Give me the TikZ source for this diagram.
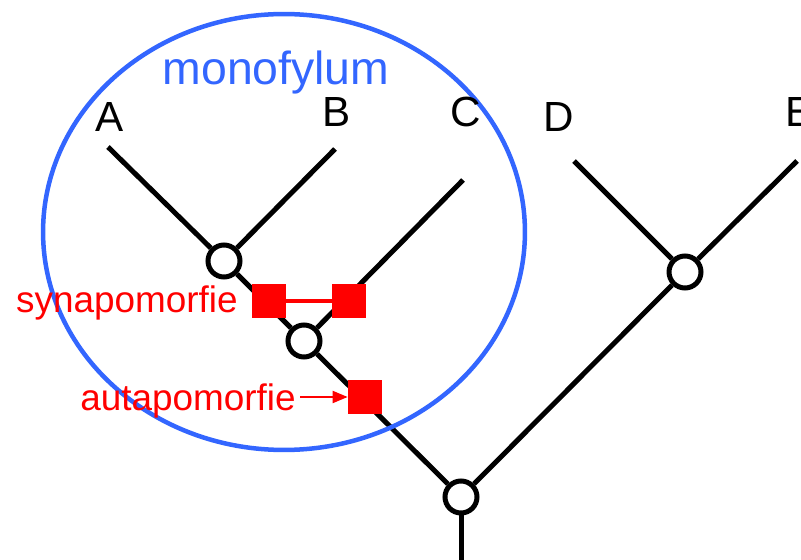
\documentclass[tikz,border=0pt]{standalone}
\usepackage{fontspec}
\setmainfont{Liberation Sans}
\usetikzlibrary{arrows.meta,positioning}

\definecolor{cladeblue}{RGB}{51,102,255}

\begin{document}
\begin{tikzpicture}[
    x=0.02cm, y=-0.02cm,
    branch/.style={draw=black, line width=0.1cm},
    split/.style={circle, draw=black, fill=white, line width=0.1cm, minimum size=0.64cm, inner sep=0pt},
    trait/.style={rectangle, fill=red, minimum size=0.68cm, inner sep=0pt},
    taxon/.style={font=\fontsize{24}{28}\selectfont, inner sep=0pt, anchor=base},
    note/.style={text=red, font=\fontsize{21}{25}\selectfont, inner sep=0pt, anchor=base east},
]
\useasboundingbox (0,0) rectangle (801,560);

% tips of the branches
\coordinate (tipA) at (108,147);
\coordinate (tipB) at (335,149);
\coordinate (tipC) at (463,180);
\coordinate (tipD) at (574,161);
\coordinate (tipE) at (797,161);
\coordinate (stem) at (461,560);

% splits
\node[split] (ab)   at (224,261) {};
\node[split] (abc)  at (304,341) {};
\node[split] (de)   at (685,272) {};
\node[split] (root) at (461,497) {};

\draw[branch] (tipA) -- (ab);
\draw[branch] (tipB) -- (ab);
\draw[branch] (ab) -- (abc);
\draw[branch] (tipC) -- (abc);
\draw[branch] (abc) -- (root);
\draw[branch] (tipD) -- (de);
\draw[branch] (tipE) -- (de);
\draw[branch] (de) -- (root);
\draw[branch] (root) -- (stem);

% the clade
\draw[cladeblue, line width=0.09cm] (284,232) ellipse [x radius=4.82cm, y radius=4.36cm];
\node[taxon, text=cladeblue, font=\fontsize{26.4}{30}\selectfont] (mono) at (276,85) {monofylum};

% taxa
\node[taxon] (labA) at (110,132) {A};
\node[taxon] (labB) at (337,127) {B};
\node[taxon] (labC) at (466,127) {C};
\node[taxon] (labD) at (559,132) {D};
\node[taxon] (labE) at (800,127) {E};

% characters
\node[trait] (syn1) at (269,301) {};
\node[trait] (syn2) at (349,301) {};
\node[trait] (aut)  at (365,397) {};
\draw[red, line width=0.08cm] (syn1) -- (syn2);

\node[note] (synlab) at (238,313) {synapomorfie};
\node[note] (autlab) at (296,410) {autapomorfie};
\draw[red, line width=0.04cm, -{Triangle[length=0.3cm, width=0.24cm]}, shorten <=0.08cm]
    (autlab.east |- aut) -- (aut);

\end{tikzpicture}
\end{document}
